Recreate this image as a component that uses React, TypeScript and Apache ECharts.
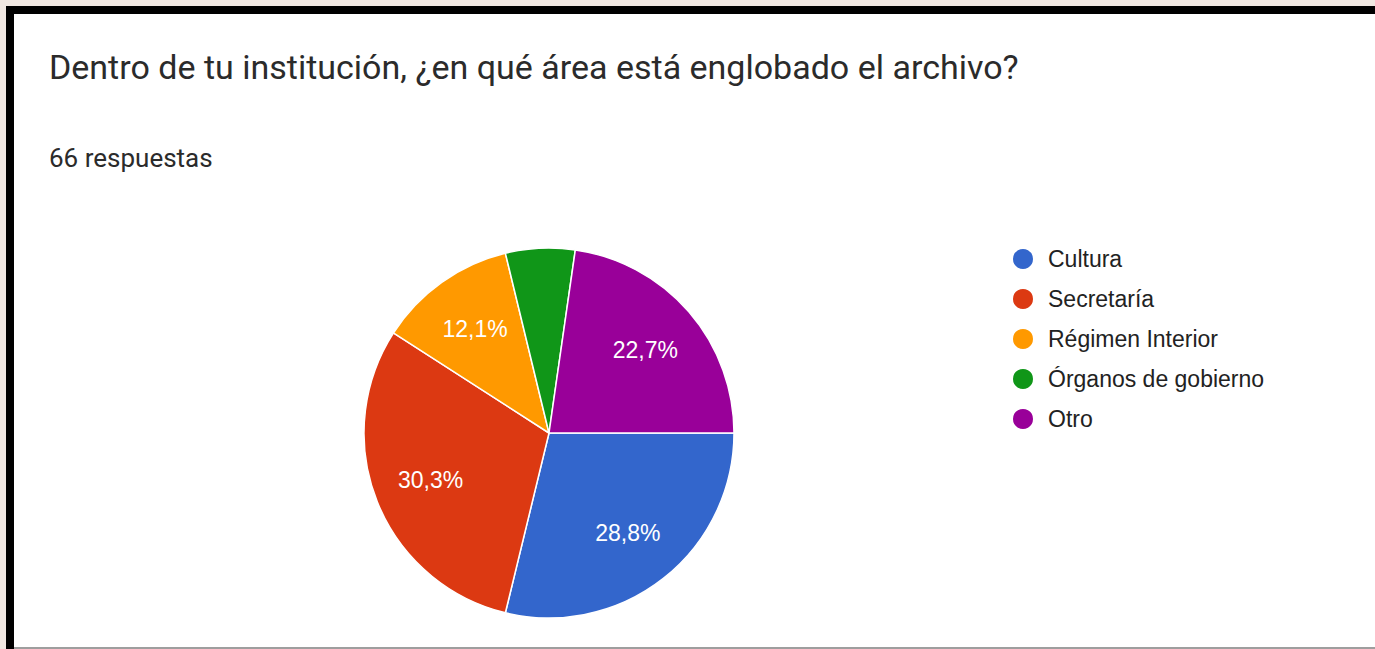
import React, { useEffect, useRef } from "react";
import * as echarts from "echarts";

const categories = ["Cultura", "Secretaría", "Régimen Interior", "Órganos de gobierno", "Otro"];
const counts = [19, 20, 8, 4, 15];
const colors = ["#3366cc", "#dc3912", "#ff9900", "#109618", "#990099"];
const hiddenLabels = ["Órganos de gobierno"];
const titleText = "Dentro de tu institución, ¿en qué área está englobado el archivo?";
const subtitleText = "66 respuestas";

const W = 1375;
const H = 649;
const CENTER = [549, 433];
const R = 185;
const LABEL_R0 = 64;
const ARIAL = "'Liberation Sans', Arial, sans-serif";
const ROBOTO = "Roboto, 'Noto Sans', sans-serif";

export default function App() {
  const ref = useRef<HTMLDivElement>(null);
  useEffect(() => {
    if (!ref.current) return;
    const chart = echarts.init(ref.current, null, { renderer: "svg" });
    const option: any = {
      animation: false,
      backgroundColor: "#f1e8e2",
      graphic: [
        { type: "rect", silent: true, z: -10, shape: { x: 6, y: 6, width: W - 6, height: H - 6 }, style: { fill: "#000" } },
        { type: "rect", silent: true, z: -9, shape: { x: 14, y: 14, width: W - 14, height: 633 }, style: { fill: "#fff" } },
        { type: "rect", silent: true, z: -8, shape: { x: 14, y: 647, width: W - 14, height: 2 }, style: { fill: "#9e9e9e" } },
        {
          type: "text", silent: true, x: 49, y: 67,
          style: { text: titleText, fontFamily: ROBOTO, fontSize: 34, fill: "#2b2b2b", verticalAlign: "middle", align: "left" },
        },
        {
          type: "text", silent: true, x: 49, y: 158,
          style: { text: subtitleText, fontFamily: ROBOTO, fontSize: 26, fill: "#2b2b2b", verticalAlign: "middle", align: "left" },
        },
      ],
      legend: {
        orient: "vertical",
        left: 1011,
        top: 247,
        padding: 0,
        itemWidth: 22,
        itemHeight: 22,
        itemGap: 16,
        icon: "circle",
        selectedMode: false,
        textStyle: { fontFamily: ARIAL, fontSize: 23, color: "#222", padding: [0, 0, 0, 9] },
        data: categories,
      },
      series: [
        {
          type: "pie",
          center: CENTER,
          radius: R,
          startAngle: 0,
          clockwise: true,
          percentPrecision: 1,
          avoidLabelOverlap: false,
          emphasis: { disabled: true },
          label: { show: false },
          labelLine: { show: false },
          itemStyle: { borderColor: "#fff", borderWidth: 1.5 },
          data: categories.map((n, i) => ({ name: n, value: counts[i], itemStyle: { color: colors[i] } })),
        },
        {
          type: "pie",
          center: CENTER,
          radius: [LABEL_R0, R],
          startAngle: 0,
          clockwise: true,
          percentPrecision: 1,
          silent: true,
          avoidLabelOverlap: false,
          emphasis: { disabled: true },
          itemStyle: { color: "rgba(0,0,0,0)", borderWidth: 0 },
          labelLine: { show: false },
          label: {
            show: true,
            position: "inside",
            color: "#fff",
            fontFamily: ARIAL,
            fontSize: 23,
            textBorderWidth: 0,
            formatter: (p: any) => p.percent.toFixed(1).replace(".", ",") + "%",
          },
          data: categories.map((n, i) => ({
            name: n,
            value: counts[i],
            label: { show: !hiddenLabels.includes(n) },
          })),
        },
      ],
    };
    chart.setOption(option);
    return () => chart.dispose();
  }, []);
  return <div ref={ref} style={{ position: "absolute", left: 0, top: 0, width: W, height: H }} />;
}
